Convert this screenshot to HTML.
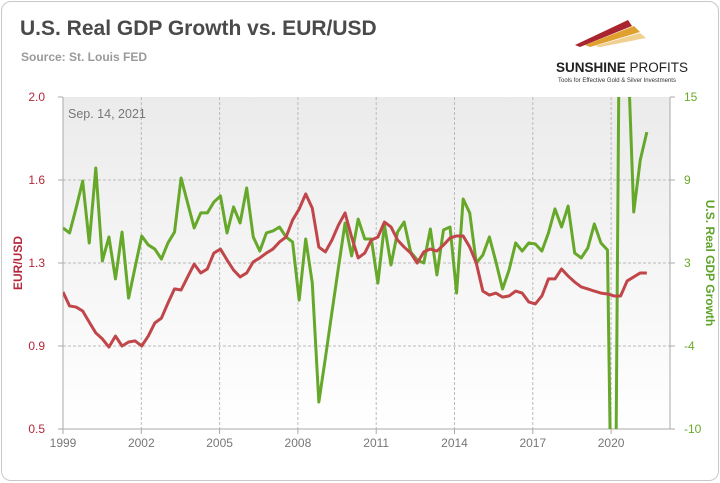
<!DOCTYPE html>
<html><head><meta charset="utf-8">
<style>
html,body{margin:0;padding:0;width:720px;height:483px;overflow:hidden;background:#fff;font-family:"Liberation Sans",sans-serif;}
#card{position:absolute;left:1px;top:1px;width:716px;height:478px;border:1px solid #c8c8c8;border-radius:10px;background:#fff;box-sizing:content-box;}
</style></head>
<body>
<div id="card"></div>
<svg id="chart" width="720" height="483" style="position:absolute;left:0;top:0;display:block">
<defs>
<linearGradient id="bg" x1="0" y1="0" x2="0" y2="1"><stop offset="0" stop-color="#ebebeb"/><stop offset="1" stop-color="#ffffff"/></linearGradient>
<clipPath id="clip"><rect x="63" y="97" width="607" height="332"/></clipPath>
</defs>
<text x="20" y="35" font-size="21" font-weight="bold" fill="#4a4a4a">U.S. Real GDP Growth vs. EUR/USD</text>
<text x="21" y="61" font-size="12" font-weight="bold" fill="#9a9a9a">Source: St. Louis FED</text>
<g>
<polygon points="575,45 628,20 632,26 580,47" fill="#a8242f"/>
<polygon points="585,45 634,26 640,32 590,47" fill="#e0a030"/>
<polygon points="595,46 640,33 646,38 600,47" fill="#f0d090"/>
<text x="556" y="72" font-size="13.5" font-weight="bold" fill="#222">SUNSHINE <tspan font-weight="normal">PROFITS</tspan></text>
<text x="558" y="82" font-size="6" fill="#333">Tools for Effective Gold &amp; Silver Investments</text>
</g>
<rect x="63" y="97" width="607" height="332" fill="url(#bg)"/>
<g id="grid"></g>
<g id="axes"></g>
<text x="68" y="118" font-size="12.5" fill="#777">Sep. 14, 2021</text>
<text transform="translate(22,263) rotate(-90)" text-anchor="middle" font-size="12" font-weight="bold" fill="#b5283a">EUR/USD</text>
<text transform="translate(706,263) rotate(90)" text-anchor="middle" font-size="12" font-weight="bold" fill="#5ea32a">U.S. Real GDP Growth</text>
<g id="series" clip-path="url(#clip)"></g>
</svg>
<script>
const xLabels=["1999","2002","2005","2008","2011","2014","2017","2020"];
const xLabelYears=[1999,2002,2005,2008,2011,2014,2017,2020];
const leftTicks=[0.5,0.875,1.25,1.625,2.0];
const leftTickLabels=["0.5","0.9","1.3","1.6","2.0"];
const rightTicks=[-10,-3.75,2.5,8.75,15];
const rightTickLabels=["-10","-4","3","9","15"];
const eurusd=[1.119,1.056,1.051,1.033,0.983,0.934,0.907,0.870,0.920,0.875,0.893,0.898,0.875,0.920,0.979,1.001,1.069,1.133,1.128,1.187,1.245,1.205,1.223,1.295,1.313,1.264,1.218,1.187,1.205,1.255,1.273,1.295,1.313,1.345,1.367,1.444,1.494,1.562,1.498,1.322,1.300,1.354,1.422,1.476,1.367,1.273,1.295,1.354,1.367,1.435,1.413,1.354,1.322,1.295,1.250,1.300,1.313,1.304,1.331,1.363,1.372,1.372,1.322,1.250,1.123,1.105,1.114,1.096,1.101,1.123,1.114,1.074,1.065,1.101,1.178,1.178,1.223,1.191,1.164,1.142,1.133,1.123,1.114,1.110,1.101,1.101,1.169,1.187,1.205,1.205];
const gdp=[5.14,4.76,6.64,8.67,4.01,9.65,2.65,4.46,1.30,4.83,-0.14,2.20,4.53,3.86,3.55,2.80,4.01,4.83,8.90,7.02,5.14,6.27,6.27,7.09,7.55,4.76,6.72,5.51,8.15,4.46,3.40,4.76,4.91,5.21,4.46,4.08,-0.29,4.31,0.99,-7.97,-4.65,-1.19,2.20,5.51,3.03,5.81,4.31,4.31,0.99,5.36,2.35,4.83,5.59,3.33,2.73,2.50,5.06,1.60,4.99,5.21,0.24,7.32,6.27,2.50,3.10,4.46,2.58,0.54,1.97,4.01,3.40,4.01,3.93,3.40,4.76,6.57,5.21,6.79,3.25,2.88,3.63,5.44,4.01,3.48,-31.2,33.8,20,6.34,10.26,12.36];
const X0=63,X1=670,Y0=97,Y1=429;
const xYear=y=>X0+(y-1999)*26.1;
const xIdx=i=>X0+i*6.56;
const yL=v=>Y1-(v-0.5)/1.5*(Y1-Y0);
const yR=v=>Y1-(v+10)/25*(Y1-Y0);
const NS="http://www.w3.org/2000/svg";
function mk(tag,attrs,parent){const e=document.createElementNS(NS,tag);for(const k in attrs)e.setAttribute(k,attrs[k]);parent.appendChild(e);return e;}
const grid=document.getElementById('grid'),axes=document.getElementById('axes'),series=document.getElementById('series');
leftTicks.forEach((v,i)=>{
  const y=yL(v);
  if(i>0&&i<leftTicks.length-1){const g=mk('line',{x1:X0,x2:X1,y1:y,y2:y,stroke:'#bbb','stroke-dasharray':'3,2'},grid);
  
  }
  const t=mk('text',{x:45,y:y+4,'text-anchor':'end','font-size':12,fill:'#b5283a'},axes);t.textContent=leftTickLabels[i];
  
  
  mk('line',{x1:X0-5,x2:X0,y1:y,y2:y,stroke:'#aaa'},axes);
});
rightTicks.forEach((v,i)=>{
  const y=yR(v);
  const t=mk('text',{x:684,y:y+4,'font-size':12,fill:'#6aaa2a'},axes);t.textContent=rightTickLabels[i];
  
  
  mk('line',{x1:X1,x2:X1+5,y1:y,y2:y,stroke:'#aaa'},axes);
});
xLabelYears.forEach((yr,i)=>{
  const x=xYear(yr);
  if(i>0){const g=mk('line',{x1:x,x2:x,y1:Y0,y2:Y1,stroke:'#bbb','stroke-dasharray':'3,2'},grid);
  
  }
  mk('line',{x1:x,x2:x,y1:Y1,y2:Y1+5,stroke:'#aaa'},axes);
  const t=mk('text',{x:x,y:447,'text-anchor':'middle','font-size':12,fill:'#777'},axes);t.textContent=xLabels[i];
  
  
});
mk('line',{x1:X0,x2:X0,y1:Y0,y2:Y1,stroke:'#aaa'},axes);
mk('line',{x1:X1,x2:X1,y1:Y0,y2:Y1,stroke:'#aaa'},axes);
mk('line',{x1:X0,x2:X1,y1:Y1,y2:Y1,stroke:'#aaa'},axes);
const gp=mk('polyline',{points:gdp.map((v,i)=>xIdx(i)+','+yR(v)).join(' '),fill:'none',stroke:'#66a82a','stroke-width':3,'stroke-linejoin':'round'},series);


const rp=mk('polyline',{points:eurusd.map((v,i)=>xIdx(i)+','+yL(v)).join(' '),fill:'none',stroke:'#c0464a','stroke-width':3,'stroke-linejoin':'round'},series);


</script>
</body></html>
